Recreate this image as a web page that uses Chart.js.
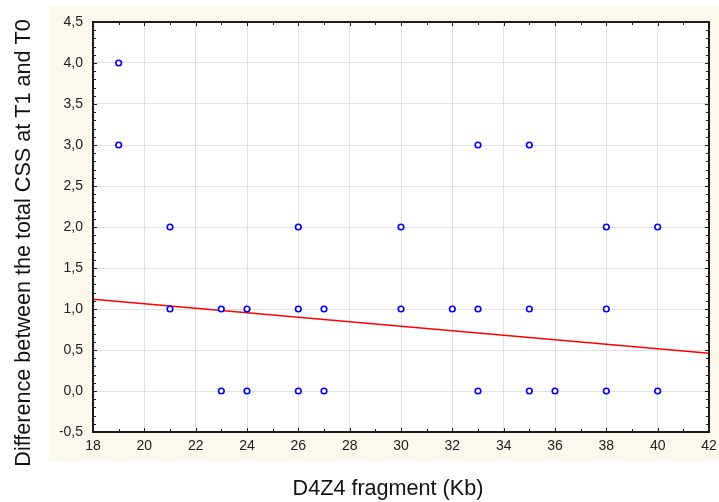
<!DOCTYPE html>
<html>
<head>
<meta charset="utf-8">
<script src="https://cdn.jsdelivr.net/npm/chart.js@4.4.1/dist/chart.umd.min.js"></script>
<style>
  html, body { margin: 0; padding: 0; background: #fff; }
  #wrap { width: 719px; height: 502px; }
</style>
</head>
<body>
<div id="wrap"><canvas id="chart"></canvas></div>
<script>
// D4Z4 fragment size (Kb) vs difference of total CSS (T1 - T0)
const fragmentKb = [19, 19, 21, 21, 23, 23, 24, 24, 26, 26, 26, 27, 27, 30, 30, 32, 33, 33, 33, 35, 35, 35, 36, 38, 38, 38, 40, 40];
const cssDiff    = [4,  3,  2,  1,  1,  0,  1,  0,  2,  1,  0,  1,  0,  2,  1,  1,  3,  1,  0,  3,  1,  0,  0,  2,  1,  0,  2,  0];

// fitted line, read at the two ends of the x axis
const fitX = [18, 42];
const fitY = [1.12, 0.46];

const xTitle = 'D4Z4 fragment (Kb)';
const yTitle = 'Difference between the total CSS at T1 and T0';

const FONT = '"Liberation Sans", Arial, sans-serif';

// cream background panel + white plot area
const backdrop = {
  id: 'backdrop',
  beforeDraw(chart) {
    const { ctx, chartArea: a } = chart;
    ctx.save();
    ctx.fillStyle = '#ffffff';
    ctx.fillRect(0, 0, chart.width, chart.height);
    ctx.fillStyle = '#fdf8ec';
    ctx.fillRect(49, 6, chart.width - 49, 455);
    ctx.fillStyle = '#ffffff';
    ctx.fillRect(a.left, a.top, a.right - a.left, a.bottom - a.top);
    ctx.restore();
  }
};

// frame, inside ticks and axis titles
const frame = {
  id: 'frame',
  afterDraw(chart) {
    const { ctx, chartArea: a, scales: { x, y } } = chart;
    ctx.save();
    ctx.strokeStyle = '#1a1a1a';
    ctx.lineWidth = 1;
    ctx.beginPath();
    for (let v = 18; v <= 42; v += 1) {
      const px = Math.round(x.getPixelForValue(v)) + 0.5;
      const len = v % 2 === 0 ? 4 : 3;
      ctx.moveTo(px, a.bottom); ctx.lineTo(px, a.bottom - len);
      ctx.moveTo(px, a.top); ctx.lineTo(px, a.top + len);
    }
    for (let i = -5; i <= 45; i++) {
      const py = Math.round(y.getPixelForValue(i / 10)) + 0.5;
      const len = i % 5 === 0 ? 4 : 3;
      ctx.moveTo(a.left, py); ctx.lineTo(a.left + len, py);
      ctx.moveTo(a.right, py); ctx.lineTo(a.right - len, py);
    }
    ctx.stroke();

    ctx.lineWidth = 2;
    ctx.strokeRect(a.left, a.top, a.right - a.left, a.bottom - a.top);

    ctx.fillStyle = '#111';
    ctx.font = '21.6px ' + FONT;
    ctx.textAlign = 'center';
    ctx.textBaseline = 'middle';
    ctx.fillText(xTitle, 388, 489);
    ctx.translate(24, 243);
    ctx.rotate(-Math.PI / 2);
    ctx.fillText(yTitle, 0, 0);
    ctx.restore();
  }
};

const commaFmt = v => Number(v).toFixed(1).replace('.', ',');

new Chart(document.getElementById('chart'), {
  type: 'scatter',
  data: {
    datasets: [
      {
        label: 'data',
        data: fragmentKb.map((v, i) => ({ x: v, y: cssDiff[i] })),
        pointRadius: 2.8,
        pointBorderWidth: 1.6,
        borderColor: '#0000ff',
        backgroundColor: '#ffffff',
        pointHoverRadius: 2.8,
      },
      {
        type: 'line',
        label: 'fit',
        data: fitX.map((v, i) => ({ x: v, y: fitY[i] })),
        borderColor: '#ff0000',
        borderWidth: 1.5,
        pointRadius: 0,
        fill: false,
      }
    ]
  },
  options: {
    responsive: true,
    maintainAspectRatio: false,
    animation: false,
    layout: { padding: { left: 0, right: 10, top: 22, bottom: 0 } },
    plugins: {
      legend: { display: false },
      tooltip: { enabled: false },
    },
    scales: {
      x: {
        type: 'linear',
        min: 18, max: 42,
        afterFit: s => { s.height = 70; s.paddingRight = 0; s.paddingLeft = 0; },
        ticks: {
          stepSize: 2,
          color: '#222',
          padding: 6,
          maxRotation: 0,
          font: { family: FONT, size: 14 },
        },
        grid: { color: '#e2e2e2', lineWidth: 1, drawTicks: false },
        border: { display: false },
      },
      y: {
        min: -0.5, max: 4.5,
        afterFit: s => { s.width = 93; },
        ticks: {
          stepSize: 0.5,
          color: '#222',
          padding: 10,
          callback: commaFmt,
          font: { family: FONT, size: 14 },
        },
        grid: { color: '#e2e2e2', lineWidth: 1, drawTicks: false },
        border: { display: false },
      }
    }
  },
  plugins: [backdrop, frame]
});
</script>
</body>
</html>
